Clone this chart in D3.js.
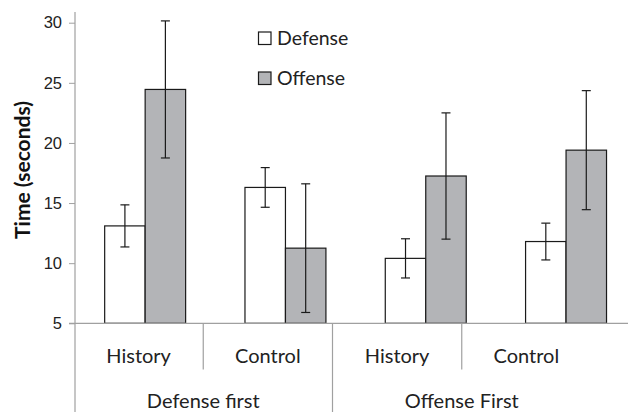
<!DOCTYPE html>
<html><head><meta charset="utf-8">
<script src="https://cdn.jsdelivr.net/npm/d3@7"></script>
<style>html,body{margin:0;padding:0;background:#fff;}svg{display:block;}</style>
</head><body>
<div id="chart"></div>
<script>
const groups = ["Defense first", "Offense First"];
const conditions = ["History", "Control"];
const categories = ["Defense first|History", "Defense first|Control", "Offense First|History", "Offense First|Control"];
const series = ["Defense", "Offense"];
const defenseValues = [13.1, 16.3, 10.4, 11.8];
const defenseErrors = [1.75, 1.65, 1.63, 1.53];
const offenseValues = [24.45, 11.25, 17.25, 19.4];
const offenseErrors = [5.7, 5.35, 5.25, 4.95];
const yTicks = [5, 10, 15, 20, 25, 30];

const W = 628, H = 412;
const svg = d3.select("#chart").append("svg").attr("width", W).attr("height", H);

const y = d3.scaleLinear().domain([5, 30]).range([323.3, 22.7]);
const x = d3.scaleBand().domain(categories).range([75, 636.2]).paddingInner(0.423).paddingOuter(0.2115);
const xs = d3.scaleBand().domain(series).range([0, x.bandwidth()]);
const xLab = d3.scaleBand().domain(categories).range([74, 591]);
const xGrp = d3.scaleBand().domain(groups).range([74, 591]);

const fillOf = {Defense: "#ffffff", Offense: "#b3b4b7"};
const data = [];
categories.forEach((c, i) => {
  data.push({cat: c, s: "Defense", v: defenseValues[i], e: defenseErrors[i]});
  data.push({cat: c, s: "Offense", v: offenseValues[i], e: offenseErrors[i]});
});

// bars
svg.append("g").selectAll("rect").data(data).join("rect")
  .attr("x", d => x(d.cat) + xs(d.s))
  .attr("y", d => y(d.v))
  .attr("width", xs.bandwidth())
  .attr("height", d => y(5) - y(d.v))
  .attr("fill", d => fillOf[d.s])
  .attr("stroke", "#1a1a1a").attr("stroke-width", 1.2);

// error bars
const eg = svg.append("g").attr("stroke", "#1a1a1a").attr("stroke-width", 1.2).attr("fill", "none");
data.forEach(d => {
  const cx = x(d.cat) + xs(d.s) + xs.bandwidth() / 2;
  const t = y(d.v + d.e), b = y(d.v - d.e);
  eg.append("line").attr("x1", cx).attr("x2", cx).attr("y1", t).attr("y2", b);
  eg.append("line").attr("x1", cx - 4.5).attr("x2", cx + 4.5).attr("y1", t).attr("y2", t);
  eg.append("line").attr("x1", cx - 4.5).attr("x2", cx + 4.5).attr("y1", b).attr("y2", b);
});

// y axis
const yAxis = d3.axisLeft(y).tickValues(yTicks).tickSize(6).tickPadding(7).tickFormat(d3.format("d"));
const ya = svg.append("g").attr("transform", "translate(75,0)").call(yAxis);
ya.select(".domain").remove();
ya.selectAll(".tick line").attr("stroke", "#a0a0a0");
ya.selectAll(".tick text").attr("font-family", "Liberation Sans, Arial, sans-serif").attr("font-size", 16.5).attr("fill", "#222");
svg.append("line").attr("x1", 75).attr("x2", 75).attr("y1", 12).attr("y2", H).attr("stroke", "#a0a0a0").attr("stroke-width", 1.2);
// baseline
svg.append("line").attr("x1", 69).attr("x2", W).attr("y1", y(5)).attr("y2", y(5)).attr("stroke", "#a0a0a0").attr("stroke-width", 1.2);

// category label grid
const lab = svg.append("g").attr("font-family", "Lato, 'Open Sans', sans-serif").attr("fill", "#222").attr("font-size", 20).attr("text-anchor", "middle");
categories.forEach((c, i) => {
  const [g, cond] = c.split("|");
  lab.append("text").attr("x", xLab(c) + xLab.bandwidth() / 2).attr("y", 363).text(cond);
  if (i % 2 === 1) {
    svg.append("line").attr("x1", xLab(c)).attr("x2", xLab(c)).attr("y1", y(5)).attr("y2", 369.5).attr("stroke", "#a0a0a0").attr("stroke-width", 1.2);
  }
});
groups.forEach((g, i) => {
  lab.append("text").attr("x", xGrp(g) + xGrp.bandwidth() / 2).attr("y", 408).text(g);
  if (i > 0) svg.append("line").attr("x1", xGrp(g)).attr("x2", xGrp(g)).attr("y1", y(5)).attr("y2", H).attr("stroke", "#a0a0a0").attr("stroke-width", 1.2);
});

// y title
svg.append("text").attr("transform", "translate(30,170) rotate(-90)")
  .attr("text-anchor", "middle").attr("font-family", "Lato, sans-serif").attr("font-weight", "bold")
  .attr("font-size", 21).attr("fill", "#111").text("Time (seconds)");

// legend
const leg = svg.append("g");
series.forEach((s, i) => {
  const gy = 32 + i * 40;
  leg.append("rect").attr("x", 258.5).attr("y", gy).attr("width", 12.5).attr("height", 12.5)
    .attr("fill", fillOf[s]).attr("stroke", "#1a1a1a").attr("stroke-width", 1.2);
  leg.append("text").attr("x", 277).attr("y", gy + 13).attr("font-family", "Lato, sans-serif")
    .attr("font-size", 19.5).attr("fill", "#222").text(s);
});
</script>
</body></html>
